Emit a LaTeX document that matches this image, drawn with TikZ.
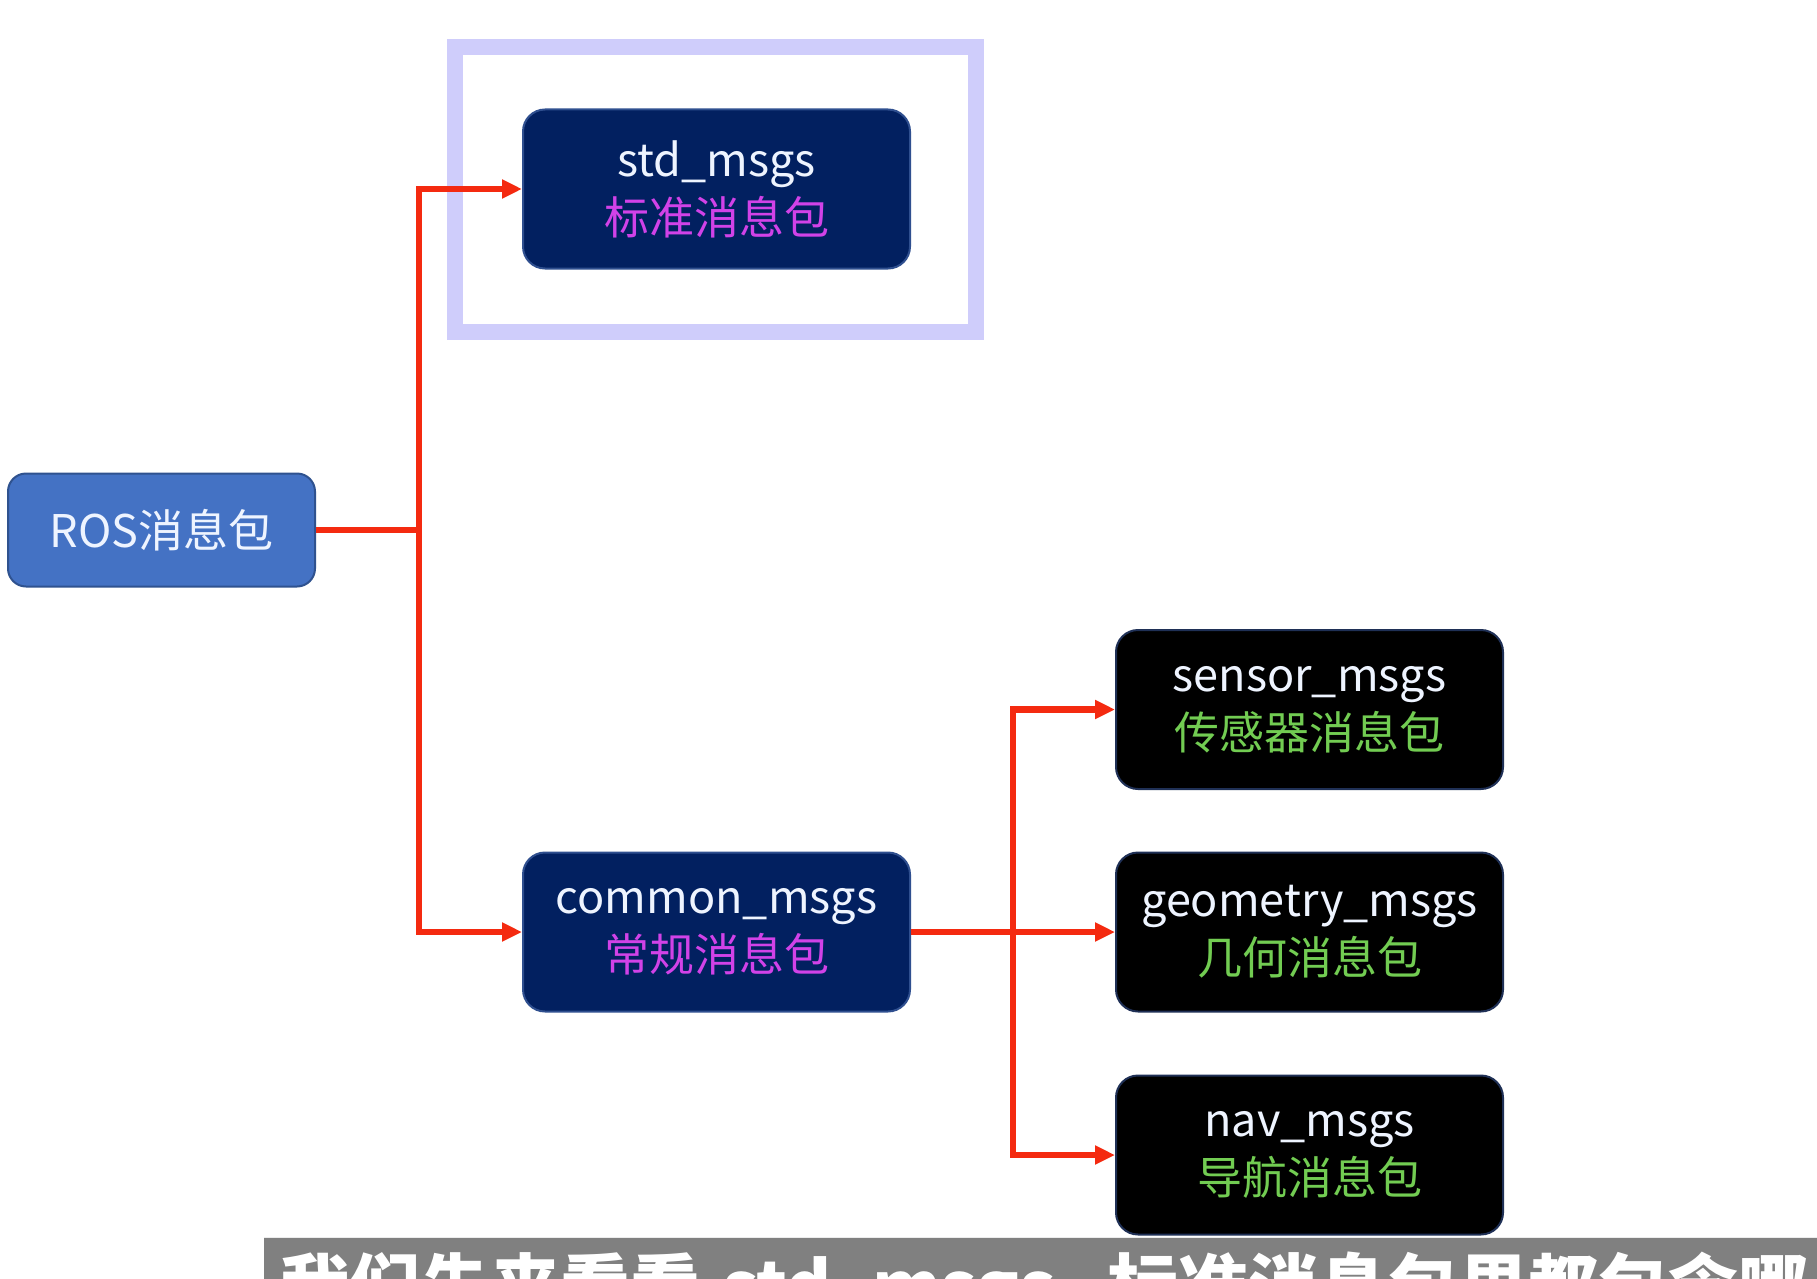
\documentclass[tikz,border=0pt]{standalone}
\usepackage{fontspec}
\setmainfont{Noto Sans CJK SC}
\usetikzlibrary{arrows.meta}
\definecolor{navyfill}{HTML}{022060}
\definecolor{navyline}{HTML}{2F4F8F}
\definecolor{rosfill}{HTML}{4472C4}
\definecolor{rosline}{HTML}{2F528F}
\definecolor{darkline}{HTML}{1F3056}
\definecolor{redline}{HTML}{F42A10}
\definecolor{magtext}{HTML}{D142E8}
\definecolor{greentext}{HTML}{72CC52}
\definecolor{lighttext}{HTML}{EEF4FF}
\definecolor{framecol}{HTML}{CFCDFB}
\definecolor{barcol}{HTML}{808080}
\begin{document}
\begin{tikzpicture}[x=1pt,y=-1pt,
  box/.style={rounded corners=22pt, minimum width=387pt, minimum height=159pt,
    line width=2pt, align=center, inner sep=0pt,
    font=\fontsize{45}{58}\selectfont, text=lighttext},
  navybox/.style={box, fill=navyfill, draw=navyline},
  blackbox/.style={box, fill=black, draw=darkline},
  arr/.style={draw=redline, line width=6.5pt, -{Triangle[length=20pt,width=18pt]}},
  conn/.style={draw=redline, line width=6.5pt},
  subtext/.style={anchor=base west, inner sep=0pt, text=white, font=\fontsize{70}{72}\selectfont\bfseries}
]
\clip (0,0) rectangle (1817,1279);
\fill[white] (0,0) rectangle (1817,1279);

% highlight frame
\draw[framecol, line width=16pt] (455,47) rectangle (976,332);

\node[navybox] (std) at (716.5,189) {std\_msgs\\\textcolor{magtext}{标准消息包}};
\node[box, fill=rosfill, draw=rosline, minimum width=307pt, minimum height=113pt, rounded corners=18pt] (ros) at (161.5,530) {ROS消息包};
\node[navybox] (common) at (716.5,932) {common\_msgs\\\textcolor{magtext}{常规消息包}};
\node[blackbox] (sensor) at (1309.5,709.5) {sensor\_msgs\\\textcolor{greentext}{传感器消息包}};
\node[blackbox] (geometry) at (1309.5,932) {geometry\_msgs\\\textcolor{greentext}{几何消息包}};
\node[blackbox] (nav) at (1309.5,1155) {nav\_msgs\\\textcolor{greentext}{导航消息包}};

\coordinate (ja) at (419,530);
\coordinate (jb) at (1013,932);
\draw[conn] (ros.east) -- (ja);
\draw[arr] (ja) |- (std.west);
\draw[arr] (ja) |- (common.west);
\draw[arr] (common.east) -- (geometry.west);
\draw[arr] (jb) |- (sensor.west);
\draw[arr] (jb) |- (nav.west);

% subtitle bar
\fill[barcol] (264,1237) rectangle (1817,1279);
\draw[white!85!gray, line width=1.5pt] (264,1237.5) -- (1817,1237.5);
\node[subtext] (sub1) at (280,1312) {我们先来看看};
\node[subtext] (sub2) at (722,1312) {std\_msgs};
\node[subtext] (sub3) at (1108,1312) {标准消息包里都包含哪};
\end{tikzpicture}
\end{document}
